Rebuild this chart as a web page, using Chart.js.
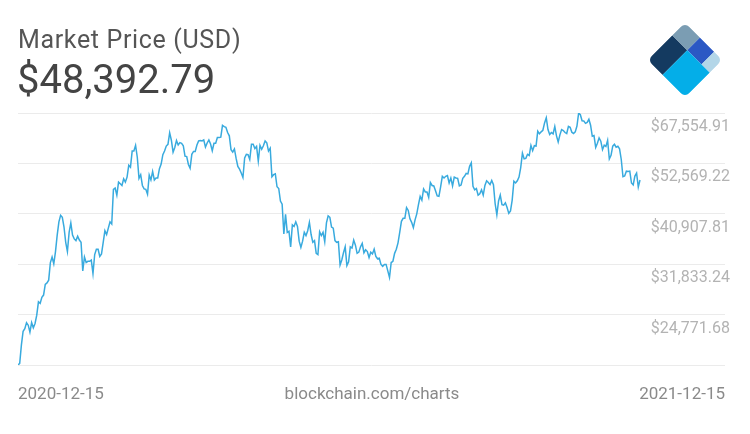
<!DOCTYPE html>
<html>
<head>
<meta charset="utf-8">
<script src="https://cdn.jsdelivr.net/npm/chart.js@4.4.1/dist/chart.umd.min.js"></script>
<style>
  html, body { margin:0; padding:0; background:#fff; }
  #wrap { position:relative; width:750px; height:434px; overflow:hidden; font-family:Roboto, "Noto Sans", sans-serif; }
  #c { position:absolute; left:0; top:0; }
  .t { position:absolute; white-space:nowrap; line-height:1; }
  #title { left:18px; top:27px; font-size:25px; letter-spacing:0.65px; color:#555; }
  #price { left:17px; top:60px; font-size:40px; color:#444; }
  .foot { top:385px; font-size:17px; color:#8a8a8a; }
  #logo { position:absolute; left:0; top:0; }
</style>
</head>
<body>
<div id="wrap">
  <canvas id="c" width="750" height="434"></canvas>
  <div class="t" id="title">Market Price (USD)</div>
  <div class="t" id="price">$48,392.79</div>
  <div class="t foot" style="left:18px;">2020-12-15</div>
  <div class="t foot" style="left:372px; transform:translateX(-50%);">blockchain.com/charts</div>
  <div class="t foot" style="right:25px;">2021-12-15</div>
  <svg id="logo" width="750" height="120">
    <defs>
      <clipPath id="clip"><rect x="-26.5" y="-26.5" width="53" height="53" rx="6" ry="6"/></clipPath>
    </defs>
    <g transform="translate(685,60) rotate(-45)" clip-path="url(#clip)">
      <rect x="-26.5" y="-26.5" width="35" height="21.2" fill="#143a60"/>
      <rect x="8.5" y="-26.5" width="18" height="21.2" fill="#7b9db3"/>
      <rect x="8.5" y="-5.3" width="18" height="20.1" fill="#2b58c4"/>
      <rect x="8.5" y="14.8" width="18" height="11.7" fill="#b3d6e8"/>
      <rect x="-26.5" y="-5.3" width="35" height="31.8" fill="#04aee8"/>
    </g>
  </svg>
</div>
<script>
// Market price (USD), one value per day, 2020-12-15 .. 2021-12-15
const dec2020 = [19276.58,19440,21300,22800,23100,23800,23500,22700,23800,23200,23700,24700,26400,26200,27000,27300,28800];
const jan2021 = [29000,29400,32100,33000,31900,33900,36800,39300,40600,40200,38300,35500,33900,37300,39100,36800,36100,35800,36600,35900,35500,30800,33000,32100,32300,32300,32500,30400,33400,34300,34300];
const feb2021 = [33100,33500,35500,37600,36900,38100,39300,38900,46200,46500,44900,47900,47500,47100,48700,47900,49100,52100,51600,55900,55900,57500,54200,48800,49700,47100,46300,46200];
const mar2021 = [45100,49600,48400,50500,48400,48900,48900,51200,52400,54900,55900,57300,57800,61200,59000,55600,56900,58900,57600,58300,58100,57400,54500,54400,52300,51300,55000,55800,55800,57600,58800];
const apr2021 = [58900,58800,59100,57000,58200,59100,57900,56000,58100,58100,59800,59800,59900,63500,63100,62900,61300,60300,56300,55600,56500,53900,51800,51100,50100,49000,54000,55000,54900,53600];
const may2021 = [57800,57800,56600,57200,53200,57500,56400,57400,58800,58200,55900,56700,49200,49700,49900,46800,46400,43600,42900,37000,40800,37300,37500,34700,38700,38400,39300,38400,35700,34600,35700];
const jun2021 = [37300,36700,37600,39200,36900,35500,35800,33600,33400,37400,36700,37300,35600,39100,40500,40200,38300,38100,35800,35500,35600,31700,32500,33700,34700,31600,32200,34700,34500,35900];
const jul2021 = [35000,33600,33800,34700,35300,33700,34200,33900,32900,33800,33500,34300,33100,32700,32800,31800,31500,31800,31800,30800,29800,32100,32300,33600,34300,35400,37300,39400,40000,40000,42200];
const aug2021 = [41600,39900,39200,38200,39700,40900,42800,44600,43800,46300,45600,45600,44400,47800,47100,47000,45900,44700,44600,46800,49300,48900,49300,49500,47700,48900,47000,49100,48900,48800,47000];
const sep2021 = [47200,48800,49300,50000,49900,51800,52700,46900,46100,46400,44900,45200,46100,44900,47100,48200,47800,47300,48300,47300,43000,40700,43600,44900,42800,42700,43200,42200,41000,41500];
const oct2021 = [43800,48100,47700,48200,49100,51500,55300,53800,53900,55000,54700,57500,56000,57400,57300,61700,60900,61500,62000,64300,66000,62200,60700,61300,60900,63200,60300,58500,60600,62200,61900];
const nov2021 = [61300,61000,63200,62900,61400,61000,61500,63300,67554.91,66970,64990,64950,64160,64470,65470,63560,60160,60370,56940,58120,59700,58730,56290,57570,57200,58960,53730,54720,57270,57800];
const dec2021 = [56990,57230,56510,53600,49200,49370,50580,50470,50590,47680,47240,49360,50100,46730,48392.79];

// Y axis ticks (log scale)
const tickValues = [19276.58, 24771.68, 31833.24, 40907.81, 52569.22, 67554.91];
const tickLabels = ['', '$24,771.68', '$31,833.24', '$40,907.81', '$52,569.22', '$67,554.91'];

const values = [].concat(dec2020, jan2021, feb2021, mar2021, apr2021, may2021, jun2021, jul2021, aug2021, sep2021, oct2021, nov2021, dec2021);
const points = values.map((v, i) => ({ x: i, y: v }));
// the line occupies the left part of the plot; the right part is left free for the labels
const xMax = (values.length - 1) * 707 / 622;

new Chart(document.getElementById('c'), {
  type: 'line',
  data: { datasets: [{ data: points, borderColor: '#38aade', borderWidth: 1.5, pointRadius: 0, tension: 0, fill: false }] },
  options: {
    responsive: false,
    animation: false,
    layout: { padding: { left: 18, right: 25, top: 113, bottom: 69 } },
    plugins: { legend: { display: false }, tooltip: { enabled: false } },
    scales: {
      x: { type: 'linear', display: false, min: 0, max: xMax },
      y: {
        type: 'logarithmic', position: 'right',
        min: tickValues[0], max: tickValues[tickValues.length - 1],
        afterBuildTicks: s => { s.ticks = tickValues.map(v => ({ value: v })); },
        afterFit: s => { s.width = 0; },
        grid: { color: '#ebebeb', drawTicks: false, lineWidth: 1 },
        border: { display: false },
        ticks: {
          mirror: true, padding: 5, labelOffset: 14, color: '#b3b3b3', autoSkip: false,
          font: { family: 'Roboto', size: 16 },
          callback: (v, i) => tickLabels[i]
        }
      }
    }
  }
});
</script>
</body>
</html>
